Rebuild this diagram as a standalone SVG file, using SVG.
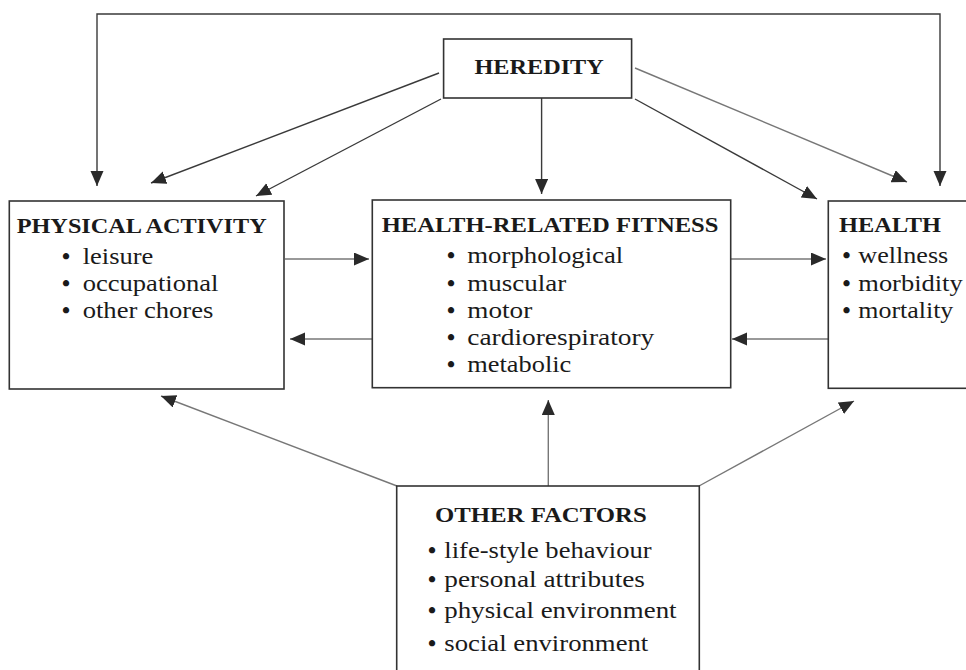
<svg xmlns="http://www.w3.org/2000/svg" width="966" height="670" viewBox="0 0 966 670">
<style>
.box{fill:#fff;stroke:#333;stroke-width:1.6}
.t{font-family:"Liberation Serif","Times New Roman",serif;font-weight:bold;font-size:22px;fill:#1a1a1a}
.b{font-family:"Liberation Serif","Times New Roman",serif;font-size:23px;fill:#1a1a1a}
.d{font-weight:bold}
.c{fill:none;stroke:#3a3a3a;stroke-width:1.4}
.g{fill:none;stroke:#777;stroke-width:1.4}
</style>
<defs>
<marker id="ah" markerUnits="userSpaceOnUse" markerWidth="16" markerHeight="14" refX="15" refY="6.5" orient="auto">
<path d="M0,0 L15,6.5 L0,13 z" fill="#2a2a2a"/>
</marker>
</defs>
<g id="connectors">
<path class="c" d="M520,14 H97 V186" marker-end="url(#ah)"/>
<path class="c" d="M520,14 H940 V186" marker-end="url(#ah)"/>
<path class="c" d="M439,73 L151,183" marker-end="url(#ah)"/>
<path class="c" d="M441,99 L256,196" marker-end="url(#ah)"/>
<path class="c" d="M541.6,98 V194" marker-end="url(#ah)"/>
<path class="c" d="M635,99 L817,199" marker-end="url(#ah)"/>
<path class="g" d="M635,68 L907,182" marker-end="url(#ah)"/>
<path class="g" d="M285,259 H369" marker-end="url(#ah)"/>
<path class="g" d="M372,339 H290" marker-end="url(#ah)"/>
<path class="g" d="M731,259 H826" marker-end="url(#ah)"/>
<path class="g" d="M828,339 H732" marker-end="url(#ah)"/>
<path class="g" d="M548.3,486 V400" marker-end="url(#ah)"/>
<path class="g" d="M397,486 L161,396" marker-end="url(#ah)"/>
<path class="g" d="M699,486 L854,401" marker-end="url(#ah)"/>
</g>
<g id="heredity">
<rect class="box" x="443.6" y="39" width="188" height="59"/>
<text class="t" x="474.4" y="74" textLength="129.4" lengthAdjust="spacingAndGlyphs">HEREDITY</text>
</g>
<g id="physical-activity">
<rect class="box" x="9.3" y="201" width="274.7" height="188"/>
<text class="t" x="16.7" y="233" textLength="250" lengthAdjust="spacingAndGlyphs">PHYSICAL ACTIVITY</text>
<text class="b" x="62" y="264"><tspan class="d">•</tspan><tspan x="82.7" textLength="70.7" lengthAdjust="spacingAndGlyphs">leisure</tspan></text>
<text class="b" x="62" y="291"><tspan class="d">•</tspan><tspan x="82.7" textLength="135.7" lengthAdjust="spacingAndGlyphs">occupational</tspan></text>
<text class="b" x="62" y="318"><tspan class="d">•</tspan><tspan x="82.7" textLength="130.7" lengthAdjust="spacingAndGlyphs">other chores</tspan></text>
</g>
<g id="health-related-fitness">
<rect class="box" x="372.3" y="200" width="358.4" height="187.7"/>
<text class="t" x="381.7" y="232.3" textLength="336.7" lengthAdjust="spacingAndGlyphs">HEALTH-RELATED FITNESS</text>
<text class="b" x="447" y="263.3"><tspan class="d">•</tspan><tspan x="467.3" textLength="156" lengthAdjust="spacingAndGlyphs">morphological</tspan></text>
<text class="b" x="447" y="290.7"><tspan class="d">•</tspan><tspan x="467.3" textLength="99" lengthAdjust="spacingAndGlyphs">muscular</tspan></text>
<text class="b" x="447" y="318.3"><tspan class="d">•</tspan><tspan x="467.3" textLength="65" lengthAdjust="spacingAndGlyphs">motor</tspan></text>
<text class="b" x="447" y="345"><tspan class="d">•</tspan><tspan x="467.3" textLength="187" lengthAdjust="spacingAndGlyphs">cardiorespiratory</tspan></text>
<text class="b" x="447" y="372.3"><tspan class="d">•</tspan><tspan x="467.3" textLength="104" lengthAdjust="spacingAndGlyphs">metabolic</tspan></text>
</g>
<g id="health">
<rect class="box" x="828.3" y="201" width="150" height="187.3"/>
<text class="t" x="839" y="232.3" textLength="102" lengthAdjust="spacingAndGlyphs">HEALTH</text>
<text class="b" x="842.5" y="263"><tspan class="d">•</tspan><tspan x="858.3" textLength="90" lengthAdjust="spacingAndGlyphs">wellness</tspan></text>
<text class="b" x="842.5" y="290.7"><tspan class="d">•</tspan><tspan x="858.3" textLength="104.4" lengthAdjust="spacingAndGlyphs">morbidity</tspan></text>
<text class="b" x="842.5" y="318"><tspan class="d">•</tspan><tspan x="858.3" textLength="95" lengthAdjust="spacingAndGlyphs">mortality</tspan></text>
</g>
<g id="other-factors">
<rect class="box" x="396.7" y="486" width="302.6" height="200"/>
<text class="t" x="435" y="521.7" textLength="211.7" lengthAdjust="spacingAndGlyphs">OTHER FACTORS</text>
<text class="b" x="428" y="558.3"><tspan class="d">•</tspan><tspan x="444.3" textLength="207.3" lengthAdjust="spacingAndGlyphs">life-style behaviour</tspan></text>
<text class="b" x="428" y="586.7"><tspan class="d">•</tspan><tspan x="444.3" textLength="200.7" lengthAdjust="spacingAndGlyphs">personal attributes</tspan></text>
<text class="b" x="428" y="618.3"><tspan class="d">•</tspan><tspan x="444.3" textLength="232.3" lengthAdjust="spacingAndGlyphs">physical environment</tspan></text>
<text class="b" x="428" y="650.7"><tspan class="d">•</tspan><tspan x="444.3" textLength="204" lengthAdjust="spacingAndGlyphs">social environment</tspan></text>
</g>
</svg>
